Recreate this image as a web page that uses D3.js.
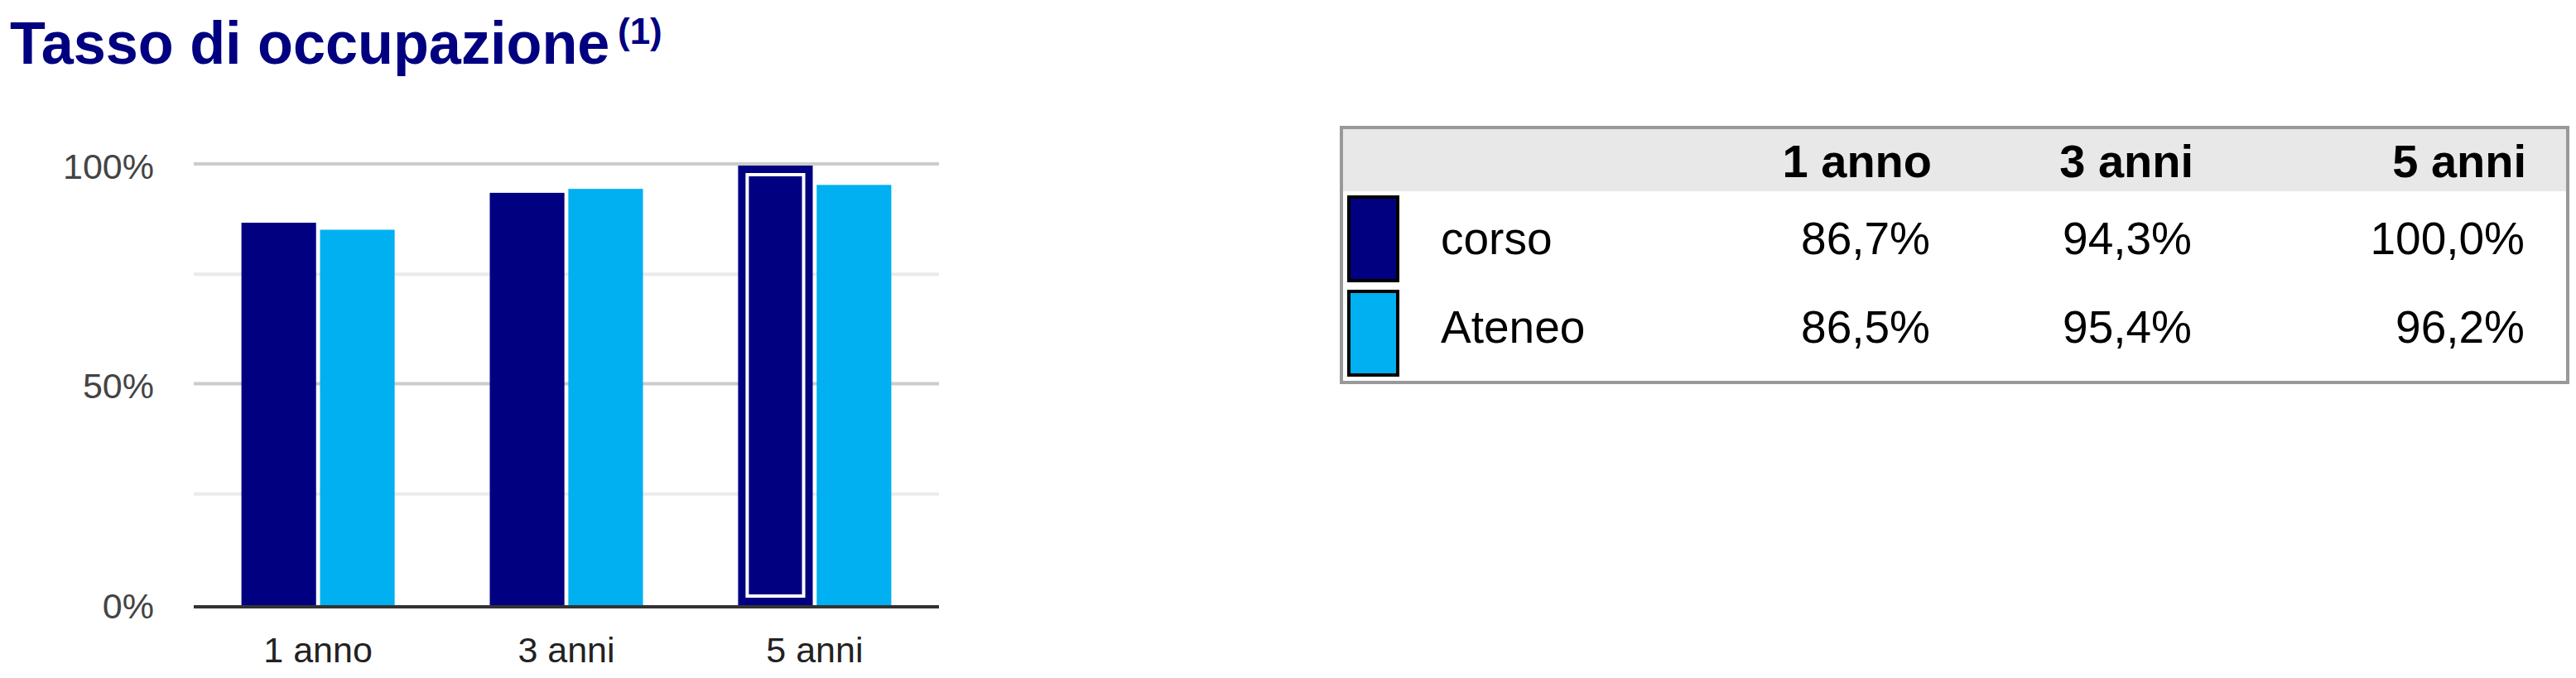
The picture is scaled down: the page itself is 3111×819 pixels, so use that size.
<!DOCTYPE html>
<html>
<head>
<meta charset="utf-8">
<script src="https://cdn.jsdelivr.net/npm/d3@7"></script>
<style>
  body { margin: 0; background: #fff; }
  text { font-family: "Liberation Sans", Arial, sans-serif; }
</style>
</head>
<body>
<div id="chart"></div>
<script>
// Data.
const categories = ["1 anno", "3 anni", "5 anni"];
const seriesNames = ["corso", "Ateneo"];
// Bar heights as drawn in the chart.
const corsoBars = [87.0, 93.8, 100.0];
const ateneoBars = [85.4, 94.7, 95.6];
// Values printed in the table.
const corsoTable = [86.7, 94.3, 100.0];
const ateneoTable = [86.5, 95.4, 96.2];
const majorTicks = [0, 50, 100];
const minorTicks = [25, 75];
const highlighted = { series: "corso", category: "5 anni" };

const W = 3111, H = 819;
const color = d3.scaleOrdinal().domain(seriesNames).range(["#000080", "#00b0f0"]);
const itFormat = d3.formatLocale({ decimal: ",", thousands: ".", grouping: [3], currency: ["€", ""] });
const pct1 = v => itFormat.format(".1f")(v) + "%";

const svg = d3.select("#chart").append("svg")
  .attr("width", W)
  .attr("height", H);

// Title with the superscript note (slightly condensed like the original).
svg.append("text")
  .attr("transform", "translate(12,77) scale(0.962,1)")
  .attr("fill", "#000080")
  .style("font-size", "73px")
  .style("font-weight", "bold")
  .text("Tasso di occupazione");
svg.append("text")
  .attr("x", 746)
  .attr("y", 53)
  .attr("fill", "#000080")
  .style("font-size", "44px")
  .style("font-weight", "bold")
  .text("(1)");

/**
 * Bar chart.
 */
const rows = categories.map((c, i) => ({ category: c, corso: corsoBars[i], Ateneo: ateneoBars[i] }));

const x = d3.scaleBand()
  .domain(categories)
  .range([234, 1134])
  .paddingInner(0.383)
  .paddingOuter(0.192);
const xSub = d3.scaleBand()
  .domain(seriesNames)
  .range([0, x.bandwidth()])
  .paddingInner(0.05);
const y = d3.scaleLinear()
  .domain([0, 100])
  .range([731, 200]);

// Gridlines.
svg.append("g").selectAll("line")
  .data(minorTicks)
  .join("line")
  .attr("x1", 234).attr("x2", 1134)
  .attr("y1", d => y(d) - 1.5).attr("y2", d => y(d) - 1.5)
  .attr("stroke", "#ebebeb")
  .attr("stroke-width", 4);
svg.append("g").selectAll("line")
  .data(majorTicks.filter(d => d > 0))
  .join("line")
  .attr("x1", 234).attr("x2", 1134)
  .attr("y1", d => y(d) - 2).attr("y2", d => y(d) - 2)
  .attr("stroke", "#cccccc")
  .attr("stroke-width", 4);

// Y axis labels.
const yAxis = svg.append("g")
  .attr("transform", "translate(186,0)")
  .call(d3.axisLeft(y).tickValues(majorTicks).tickSize(0).tickPadding(0).tickFormat(d => d + "%"));
yAxis.select(".domain").remove();
yAxis.selectAll("text")
  .attr("x", 0)
  .attr("dy", "0.35em")
  .attr("fill", "#444")
  .style("font-size", "43px")
  .style("font-family", "'Liberation Sans', Arial, sans-serif");

// Bars.
const groups = svg.append("g").selectAll("g")
  .data(rows)
  .join("g")
  .attr("transform", d => `translate(${x(d.category)},0)`);

groups.selectAll("rect")
  .data(d => seriesNames.map(k => ({ key: k, category: d.category, value: d[k] })))
  .join("rect")
  .attr("x", d => xSub(d.key))
  .attr("y", d => y(d.value))
  .attr("width", xSub.bandwidth())
  .attr("height", d => y(0) - y(d.value))
  .attr("fill", d => color(d.key));

// Selected bar gets an inner white outline.
groups.selectAll("rect.sel")
  .data(d => seriesNames
    .filter(k => k === highlighted.series && d.category === highlighted.category)
    .map(k => ({ key: k, value: d[k] })))
  .join("rect")
  .attr("class", "sel")
  .attr("x", d => xSub(d.key) + 11)
  .attr("y", d => y(d.value) + 11)
  .attr("width", xSub.bandwidth() - 22)
  .attr("height", d => y(0) - y(d.value) - 22)
  .attr("fill", "none")
  .attr("stroke", "#fff")
  .attr("stroke-width", 4);

// Baseline.
svg.append("line")
  .attr("x1", 234).attr("x2", 1134)
  .attr("y1", y(0) + 2).attr("y2", y(0) + 2)
  .attr("stroke", "#333")
  .attr("stroke-width", 4);

// X axis labels.
const xAxis = svg.append("g")
  .attr("transform", `translate(0,${y(0)})`)
  .call(d3.axisBottom(x).tickSize(0).tickPadding(0));
xAxis.select(".domain").remove();
xAxis.selectAll("text")
  .attr("y", 69)
  .attr("dy", 0)
  .attr("fill", "#222")
  .style("font-size", "43px")
  .style("font-family", "'Liberation Sans', Arial, sans-serif");

/**
 * Data table with legend swatches.
 */
const table = { x: 1620, y: 154, w: 1481, h: 308, headH: 77 };
const colRight = d3.scaleOrdinal().domain(categories).range([2333, 2649, 3051]);
const rowBase = d3.scaleOrdinal().domain(seriesNames).range([307, 414]);
const rowTop = d3.scaleOrdinal().domain(seriesNames).range([238, 352]);

svg.append("rect")
  .attr("x", table.x).attr("y", table.y)
  .attr("width", table.w).attr("height", table.headH)
  .attr("fill", "#e8e8e8");
svg.append("rect")
  .attr("x", table.x).attr("y", table.y)
  .attr("width", table.w).attr("height", table.h)
  .attr("fill", "none")
  .attr("stroke", "#999")
  .attr("stroke-width", 4);

svg.append("g").selectAll("text")
  .data(categories)
  .join("text")
  .attr("x", d => colRight(d))
  .attr("y", 214)
  .attr("text-anchor", "end")
  .style("font-size", "56px")
  .style("font-weight", "bold")
  .text(d => d);

svg.append("g").selectAll("rect")
  .data(seriesNames)
  .join("rect")
  .attr("x", 1629)
  .attr("y", d => rowTop(d))
  .attr("width", 59)
  .attr("height", 101)
  .attr("fill", d => color(d))
  .attr("stroke", "#000")
  .attr("stroke-width", 4);

svg.append("g").selectAll("text")
  .data(seriesNames)
  .join("text")
  .attr("x", 1740)
  .attr("y", d => rowBase(d))
  .style("font-size", "55px")
  .text(d => d);

const cells = [];
seriesNames.forEach(s => categories.forEach((c, i) => {
  cells.push({ series: s, category: c, value: s === "corso" ? corsoTable[i] : ateneoTable[i] });
}));
svg.append("g").selectAll("text")
  .data(cells)
  .join("text")
  .attr("x", d => colRight(d.category) - 2)
  .attr("y", d => rowBase(d.series))
  .attr("text-anchor", "end")
  .style("font-size", "55px")
  .text(d => pct1(d.value));
</script>
</body>
</html>
